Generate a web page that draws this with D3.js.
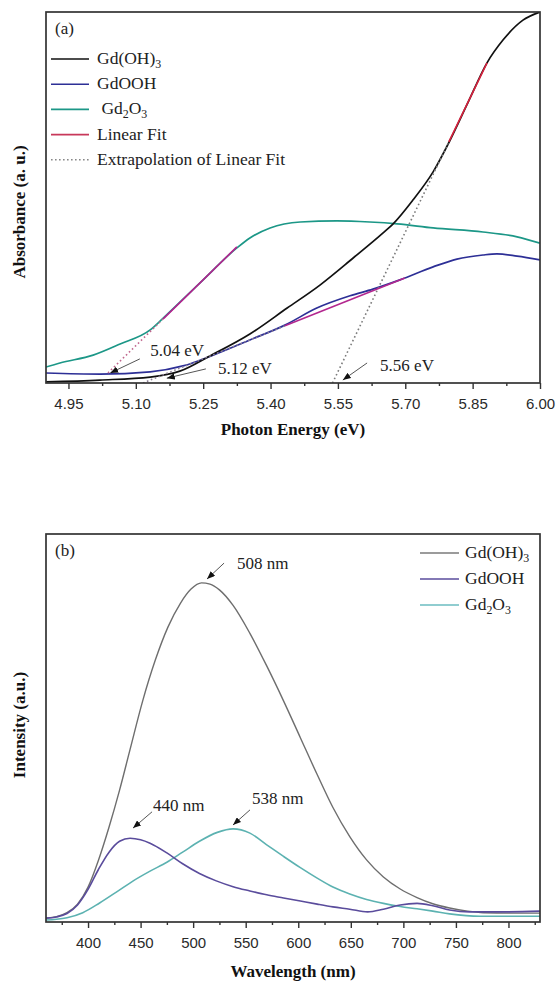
<!DOCTYPE html>
<html><head><meta charset="utf-8">
<script src="https://cdn.jsdelivr.net/npm/d3@7"></script>
<style>body{margin:0;background:#fff}svg{display:block}</style>
</head><body>
<svg id="c" width="556" height="982"></svg>
<script>
// ---------- Panel (a) data: photon energy (eV) vs absorbance (a.u., 0-100) ----------
const energyTicks = [4.95, 5.10, 5.25, 5.40, 5.55, 5.70, 5.85, 6.00];
const energyMinor = [5.025, 5.175, 5.325, 5.475, 5.625, 5.775, 5.925];
const absGdOH3 = [[4.900,0.3],[5.020,0.8],[5.132,1.6],[5.198,3.2],[5.265,7.3],[5.354,13.2],[5.437,20.2],[5.510,26.4],[5.584,33.7],[5.650,40.4],[5.673,42.9],[5.717,49.3],[5.762,56.9],[5.800,65.5],[5.840,75.7],[5.882,86.3],[5.918,92.5],[5.962,97.8],[6.000,100]];
const absGdOOH = [[4.900,2.7],[5.020,2.4],[5.132,3.0],[5.205,4.6],[5.272,7.5],[5.354,11.6],[5.432,15.6],[5.503,20.2],[5.577,23.5],[5.628,25.3],[5.688,27.8],[5.762,31.3],[5.815,33.4],[5.873,34.5],[5.904,34.8],[5.949,34.2],[6.000,33.2]];
const absGd2O3 = [[4.900,4.3],[4.931,5.4],[5.005,7.5],[5.065,10.5],[5.132,14.3],[5.161,17.5],[5.243,27.0],[5.325,36.4],[5.354,39.1],[5.399,41.8],[5.466,43.4],[5.548,43.7],[5.621,43.4],[5.682,42.9],[5.762,41.8],[5.873,40.7],[5.949,39.4],[6.000,37.7]];
// linear fits (solid) and their extrapolations (dotted)
const fitGdOH3 = [[5.797,65.0],[5.882,86.3]];
const extGdOH3 = [[5.538,0],[5.797,65.0]];
const fitGdOOH = [[5.432,15.4],[5.699,28.3]];
const extGdOOH = [[5.116,0],[5.432,15.4]];
const fitGd2O3 = [[5.161,17.3],[5.325,36.7]];
const extGd2O3 = [[5.038,2.7],[5.161,17.3]];
const legendA = ["Gd(OH)_3", "GdOOH", " Gd_2O_3", "Linear Fit", "Extrapolation of Linear Fit"];
// annotations: text position, arrow start, arrow tip (data units)
const notesA = [
  {text:"5.04 eV", at:[5.132,7.3], from:[5.109,6.5], to:[5.043,2.7]},
  {text:"5.12 eV", at:[5.283,2.4], from:[5.256,3.8], to:[5.169,1.3]},
  {text:"5.56 eV", at:[5.644,3.2], from:[5.615,5.4], to:[5.561,0.8]}
];

// ---------- Panel (b) data: wavelength (nm) vs PL intensity (a.u., 0-100) ----------
const waveTicks = [400, 450, 500, 550, 600, 650, 700, 750, 800];
const waveMinor = [375, 425, 475, 525, 575, 625, 675, 725, 775, 825];
const plGdOH3 = [[360,1.0],[370,1.4],[380,2.4],[390,4.6],[400,9.0],[410,16.0],[420,24.5],[430,34.0],[440,44.5],[452,57.0],[464,67.5],[476,76.0],[488,82.2],[498,85.8],[508,87.4],[516,87.1],[525,85.6],[538,81.6],[554,74.4],[570,66.0],[586,57.0],[602,47.5],[618,38.0],[633,29.5],[649,22.0],[665,16.0],[681,11.6],[697,8.5],[713,6.3],[728,4.7],[744,3.6],[761,2.8],[776,2.4],[802,2.3],[830,2.3]];
const plGdOOH = [[360,1.0],[370,1.3],[380,2.2],[390,4.4],[400,8.4],[410,13.6],[420,18.0],[430,20.8],[440,21.6],[450,21.2],[459,20.3],[475,17.8],[490,15.0],[506,12.5],[522,10.6],[538,9.1],[554,8.0],[570,7.0],[586,6.2],[602,5.4],[618,4.6],[633,3.9],[649,3.3],[666,2.6],[681,3.3],[697,4.4],[713,4.8],[728,4.2],[744,3.1],[763,2.6],[792,2.6],[830,2.8]];
const plGd2O3 = [[360,0.5],[370,0.7],[380,1.1],[395,2.4],[411,4.9],[428,7.9],[443,10.6],[459,13.1],[475,15.4],[490,18.0],[506,20.8],[523,23.1],[538,24.0],[554,22.9],[570,19.9],[586,16.9],[602,14.0],[618,11.3],[633,9.0],[649,7.2],[665,5.8],[681,4.8],[697,4.0],[713,3.4],[728,2.8],[744,2.1],[773,1.5],[830,1.5]];
const legendB = ["Gd(OH)_3", "GdOOH", "Gd_2O_3"];
const notesB = [
  {text:"508 nm", at:[541.7,91.0], from:[529.4,92.5], to:[513.2,88.4]},
  {text:"440 nm", at:[461.8,28.6], from:[460.9,28.4], to:[442.8,24.2]},
  {text:"538 nm", at:[556.0,30.4], from:[554.1,28.9], to:[537.9,25.0]}
];

// ---------- drawing ----------
const svg = d3.select("#c");
const serif = "'Liberation Serif','Times New Roman',serif";
const sans = "'Liberation Sans',Arial,sans-serif";

const defs = svg.append("defs");
defs.append("marker").attr("id","ah").attr("viewBox","0 0 10 8")
  .attr("refX",10).attr("refY",4).attr("markerWidth",8).attr("markerHeight",6.4)
  .attr("markerUnits","userSpaceOnUse").attr("orient","auto")
  .append("path").attr("d","M0,0L10,4L0,8Z").attr("fill","#111");

function richText(sel, s, size) {
  // "_" followed by a digit = subscript
  const parts = s.split(/(_\d)/).filter(p => p.length);
  let sub = false;
  parts.forEach(p => {
    if (p.startsWith("_")) {
      sel.append("tspan").attr("font-size", size*0.68).attr("dy", 4).text(p.slice(1));
      sub = true;
    } else {
      const t = sel.append("tspan").text(p).attr("xml:space","preserve");
      if (sub) { t.attr("dy", -4); sub = false; }
    }
  });
}

function panel(cfg) {
  const g = svg.append("g");
  const {x, y, box} = cfg;
  const clipId = "clip" + cfg.id;
  defs.append("clipPath").attr("id", clipId).append("rect")
    .attr("x", box.l).attr("y", box.t).attr("width", box.r-box.l).attr("height", box.b-box.t);

  // axes
  const major = g.append("g").attr("transform", `translate(0,${box.b})`)
    .call(d3.axisBottom(x).tickValues(cfg.ticks).tickSize(6).tickFormat(cfg.fmt));
  major.select(".domain").remove();
  major.selectAll("line").attr("stroke","#333").attr("stroke-width",1.4);
  major.selectAll("text").attr("y", 15).attr("dy","0.71em")
    .attr("font-family", sans).attr("font-size", 15).attr("fill","#2a2a2a");
  const minor = g.append("g").attr("transform", `translate(0,${box.b})`)
    .call(d3.axisBottom(x).tickValues(cfg.minor).tickSize(3).tickFormat(""));
  minor.select(".domain").remove();
  minor.selectAll("line").attr("stroke","#333").attr("stroke-width",1.4);

  const plot = g.append("g").attr("clip-path", `url(#${clipId})`);
  const line = d3.line().x(d => x(d[0])).y(d => y(d[1])).curve(d3.curveMonotoneX);
  const straight = d3.line().x(d => x(d[0])).y(d => y(d[1]));
  cfg.series.forEach(s => {
    plot.append("path").attr("d", line(s.data)).attr("fill","none")
      .attr("stroke", s.color).attr("stroke-width", s.w);
  });
  (cfg.fits || []).forEach(f => {
    plot.append("path").attr("d", straight(f.ext)).attr("fill","none")
      .attr("stroke", f.dot).attr("stroke-width", 1.6).attr("stroke-dasharray","1.6,2.6");
    plot.append("path").attr("d", straight(f.fit)).attr("fill","none")
      .attr("stroke", f.color).attr("stroke-width", 1.6);
  });

  // frame
  g.append("rect").attr("x", box.l).attr("y", box.t).attr("width", box.r-box.l).attr("height", box.b-box.t)
    .attr("fill","none").attr("stroke","#333").attr("stroke-width",1.7);

  // annotations
  cfg.notes.forEach(n => {
    g.append("line").attr("x1", x(n.from[0])).attr("y1", y(n.from[1]))
      .attr("x2", x(n.to[0])).attr("y2", y(n.to[1]))
      .attr("stroke","#555").attr("stroke-width",1).attr("marker-end","url(#ah)");
    g.append("text").attr("x", x(n.at[0])).attr("y", y(n.at[1]))
      .attr("font-family", serif).attr("font-size", 17).attr("fill","#222").text(n.text);
  });

  // panel tag
  g.append("text").attr("x", box.l + 9).attr("y", box.t + 22)
    .attr("font-family", serif).attr("font-size", 17).attr("fill","#222").text(cfg.tag);

  // legend
  cfg.legend.forEach((lab, i) => {
    const ly = cfg.leg.y + i*cfg.leg.dy;
    const it = cfg.legItems[i];
    g.append("line").attr("x1", cfg.leg.x1).attr("x2", cfg.leg.x2).attr("y1", ly).attr("y2", ly)
      .attr("stroke", it.color).attr("stroke-width", it.w || 1.6)
      .attr("stroke-dasharray", it.dash || null);
    const t = g.append("text").attr("x", cfg.leg.tx).attr("y", ly + 5)
      .attr("font-family", serif).attr("font-size", 17.5).attr("fill","#222")
      .attr("xml:space","preserve");
    richText(t, lab, 17.5);
  });

  // axis titles
  g.append("text").attr("x", (box.l+box.r)/2).attr("y", cfg.xTitleY)
    .attr("text-anchor","middle").attr("font-family", serif).attr("font-weight","bold")
    .attr("font-size", 17).attr("fill","#111").text(cfg.xTitle);
  g.append("text").attr("transform", `translate(25,${cfg.yTitleC}) rotate(-90)`)
    .attr("text-anchor","middle").attr("font-family", serif).attr("font-weight","bold")
    .attr("font-size", 17).attr("fill","#111").text(cfg.yTitle);
}

// Panel (a)
const boxA = {l:46, r:540, t:12, b:383};
const xA = d3.scaleLinear().domain([4.90, 6.00]).range([boxA.l, boxA.r]);
const yA = d3.scaleLinear().domain([0, 100]).range([boxA.b, boxA.t]);
panel({
  id:"a", x:xA, y:yA, box:boxA, ticks:energyTicks, minor:energyMinor, fmt:d3.format(".2f"),
  series:[
    {data:absGd2O3, color:"#1c9787", w:1.7},
    {data:absGdOOH, color:"#2d2f96", w:1.7},
    {data:absGdOH3, color:"#111111", w:1.7}
  ],
  fits:[
    {fit:fitGdOH3, ext:extGdOH3, color:"#d7213d", dot:"#7c7c7c"},
    {fit:fitGdOOH, ext:extGdOOH, color:"#b3278f", dot:"#8c7f95"},
    {fit:fitGd2O3, ext:extGd2O3, color:"#b5218e", dot:"#c0678e"}
  ],
  notes:notesA, tag:"(a)", legend:legendA,
  legItems:[{color:"#111"},{color:"#2d2f96"},{color:"#1c9787"},{color:"#c8385a"},{color:"#888", dash:"1.6,2.4"}],
  leg:{x1:51, x2:89, tx:97, y:59, dy:25.2},
  xTitle:"Photon Energy (eV)", xTitleY:435,
  yTitle:"Absorbance (a. u.)", yTitleC:212
});

// Panel (b)
const boxB = {l:46, r:540, t:534, b:922};
const xB = d3.scaleLinear().domain([360, 830]).range([boxB.l, boxB.r]);
const yB = d3.scaleLinear().domain([0, 100]).range([boxB.b, boxB.t]);
panel({
  id:"b", x:xB, y:yB, box:boxB, ticks:waveTicks, minor:waveMinor, fmt:d3.format("d"),
  series:[
    {data:plGdOH3, color:"#6e6e6e", w:1.4},
    {data:plGd2O3, color:"#5cb2b1", w:1.6},
    {data:plGdOOH, color:"#5a4c9c", w:1.6}
  ],
  notes:notesB, tag:"(b)", legend:legendB,
  legItems:[{color:"#7a7a7a", w:1.3},{color:"#5a4c9c", w:1.3},{color:"#6bbcc0", w:1.3}],
  leg:{x1:420, x2:459, tx:465, y:553, dy:26},
  xTitle:"Wavelength (nm)", xTitleY:977,
  yTitle:"Intensity (a.u.)", yTitleC:725
});
</script>
</body></html>
